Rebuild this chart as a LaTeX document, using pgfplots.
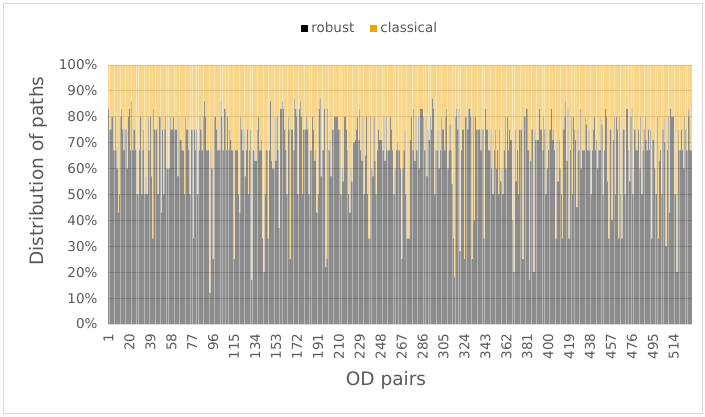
\documentclass[border=0pt]{standalone}
\usepackage{pgfplots}
\usepackage{pgfplotstable}
\usepackage{fontspec}
\setmainfont{DejaVu Sans}
\pgfplotsset{compat=1.18}
\definecolor{txtgray}{HTML}{595959}
\definecolor{gridgray}{HTML}{D9D9D9}
\definecolor{classorange}{RGB}{237,165,0}
\pgfplotstableread[row sep=\\]{r\\
83\\ 75\\ 75\\ 80\\ 80\\ 67\\ 80\\ 67\\ 60\\ 43\\ 50\\ 80\\ 83\\ 75\\ 67\\ 75\\ 75\\ 60\\ 80\\ 83\\ 67\\ 86\\ 67\\ 75\\ 75\\ 67\\ 50\\ 50\\ 67\\ 80\\ 50\\ 67\\ 75\\ 50\\ 57\\ 50\\ 80\\
67\\ 80\\ 57\\ 33\\ 83\\ 75\\ 75\\ 75\\ 50\\ 80\\ 80\\ 43\\ 75\\ 50\\ 75\\ 80\\ 60\\ 60\\ 60\\ 80\\ 75\\ 75\\ 80\\ 75\\ 75\\ 75\\ 57\\ 80\\ 71\\ 71\\ 67\\ 67\\ 50\\ 80\\ 75\\ 75\\ 67\\ 50\\ 75\\ 75\\ 33\\ 75\\ 67\\ 75\\ 50\\ 67\\
80\\ 75\\ 67\\ 80\\ 86\\ 80\\ 67\\ 67\\ 67\\ 12\\ 67\\ 60\\ 25\\ 80\\ 80\\ 75\\ 67\\ 67\\ 67\\ 86\\ 80\\ 67\\ 83\\ 83\\ 67\\ 80\\ 67\\ 75\\ 71\\ 67\\ 67\\ 25\\ 67\\ 67\\ 67\\ 50\\ 43\\ 80\\ 75\\ 67\\ 75\\ 57\\ 67\\ 75\\ 50\\
67\\ 75\\ 17\\ 67\\ 67\\ 63\\ 63\\ 75\\ 80\\ 67\\ 67\\ 71\\ 33\\ 20\\ 50\\ 67\\ 67\\ 33\\ 67\\ 86\\ 63\\ 60\\ 60\\ 80\\ 63\\ 80\\ 67\\ 37\\ 83\\ 83\\ 86\\ 83\\ 75\\ 67\\ 50\\ 80\\ 75\\ 25\\ 75\\ 75\\ 67\\ 87\\ 83\\ 80\\ 50\\
83\\ 86\\ 80\\ 50\\ 75\\ 75\\ 75\\ 80\\ 75\\ 50\\ 67\\ 67\\ 80\\ 75\\ 63\\ 67\\ 43\\ 50\\ 83\\ 87\\ 57\\ 67\\ 67\\ 83\\ 22\\ 25\\ 83\\ 67\\ 71\\ 57\\ 75\\ 75\\ 80\\ 80\\ 80\\ 80\\ 75\\ 75\\ 50\\ 60\\ 55\\ 80\\ 80\\ 75\\ 67\\ 50\\
43\\ 60\\ 55\\ 70\\ 70\\ 71\\ 75\\ 80\\ 71\\ 83\\ 67\\ 63\\ 80\\ 50\\ 65\\ 80\\ 50\\ 33\\ 33\\ 80\\ 60\\ 57\\ 80\\ 63\\ 50\\ 67\\ 75\\ 71\\ 71\\ 71\\ 67\\ 80\\ 63\\ 80\\ 67\\ 67\\ 67\\ 80\\ 75\\ 67\\ 50\\ 60\\ 67\\ 70\\ 67\\
67\\ 60\\ 25\\ 60\\ 67\\ 75\\ 50\\ 33\\ 33\\ 33\\ 71\\ 80\\ 67\\ 83\\ 63\\ 80\\ 67\\ 80\\ 60\\ 83\\ 83\\ 83\\ 80\\ 67\\ 80\\ 57\\ 75\\ 71\\ 80\\ 75\\ 87\\ 83\\ 50\\ 67\\ 67\\ 75\\ 60\\ 67\\ 80\\ 75\\ 75\\ 67\\ 80\\ 83\\ 60\\ 67\\
77\\ 67\\ 54\\ 33\\ 18\\ 80\\ 83\\ 75\\ 83\\ 28\\ 67\\ 75\\ 75\\ 25\\ 80\\ 80\\ 75\\ 83\\ 83\\ 80\\ 25\\ 80\\ 40\\ 80\\ 75\\ 75\\ 75\\ 75\\ 67\\ 75\\ 75\\ 33\\ 83\\ 75\\ 75\\ 67\\ 67\\ 75\\ 60\\ 50\\ 67\\ 75\\ 60\\ 67\\ 50\\
75\\ 55\\ 60\\ 50\\ 67\\ 80\\ 60\\ 80\\ 67\\ 75\\ 71\\ 71\\ 40\\ 20\\ 75\\ 55\\ 67\\ 50\\ 75\\ 75\\ 75\\ 25\\ 80\\ 80\\ 83\\ 83\\ 67\\ 17\\ 63\\ 75\\ 75\\ 20\\ 75\\ 71\\ 71\\ 71\\ 83\\ 75\\ 75\\ 67\\ 80\\ 75\\ 50\\ 60\\ 67\\ 75\\
75\\ 83\\ 71\\ 75\\ 67\\ 33\\ 71\\ 55\\ 71\\ 60\\ 50\\ 33\\ 75\\ 80\\ 86\\ 63\\ 83\\ 33\\ 67\\ 80\\ 50\\ 80\\ 75\\ 71\\ 45\\ 75\\ 67\\ 83\\ 60\\ 67\\ 67\\ 67\\ 80\\ 77\\ 67\\ 75\\ 67\\ 50\\ 67\\ 75\\ 80\\ 67\\ 71\\ 60\\ 67\\
67\\ 80\\ 77\\ 50\\ 67\\ 83\\ 80\\ 55\\ 33\\ 75\\ 75\\ 40\\ 71\\ 80\\ 50\\ 80\\ 75\\ 33\\ 80\\ 50\\ 33\\ 75\\ 75\\ 50\\ 83\\ 83\\ 67\\ 55\\ 80\\ 83\\ 50\\ 75\\ 75\\ 67\\ 67\\ 75\\ 60\\ 80\\ 50\\ 67\\ 75\\ 80\\ 71\\ 67\\ 75\\ 67\\
75\\ 33\\ 71\\ 71\\ 60\\ 50\\ 80\\ 33\\ 63\\ 67\\ 50\\ 75\\ 80\\ 70\\ 30\\ 67\\ 80\\ 43\\ 83\\ 80\\ 80\\ 80\\ 50\\ 50\\ 20\\ 75\\ 67\\ 67\\ 75\\ 67\\ 60\\ 80\\ 75\\ 67\\ 83\\ 80\\ 67\\ 67\\
}\ODdata
\begin{document}
\begin{tikzpicture}
\useasboundingbox (0,0) rectangle (705bp,417bp);
\draw[gridgray, line width=0.8bp] (3bp,4bp) rectangle (702bp,414bp);
\begin{axis}[
  at={(108bp,93bp)}, anchor=south west,
  width=584bp, height=259bp, scale only axis,
  ybar stacked, bar width=0.72,
  xmin=0.5, xmax=530.5, ymin=0, ymax=100,
  xtick={1,20,...,514},
  ytick={0,10,...,100},
  yticklabel={\pgfmathprintnumber{\tick}\%},
  /pgf/number format/assume math mode=true,
  major tick length=0pt,
  axis line style={draw=none},
  ymajorgrids, grid style={draw=gridgray, line width=0.8bp},
  tick label style={font=\fontsize{13.5bp}{16bp}\selectfont, text=txtgray},
  x tick label style={rotate=90, anchor=east},
  xticklabel shift=6bp,
  yticklabel shift=7bp,
  xlabel={OD pairs}, ylabel={Distribution of paths},
  label style={font=\fontsize{18.5bp}{22bp}\selectfont, text=txtgray},
  xlabel style={at={(axis description cs:0.476,-0.216)}, anchor=center},
  ylabel style={at={(axis description cs:-0.12,0.59)}, anchor=center},
  legend columns=2,
  legend style={at={(0.449,1.143)}, anchor=center, draw=none, fill=none,
    font=\fontsize{13.5bp}{16bp}\selectfont, text=txtgray,
    /tikz/every even column/.append style={column sep=14bp},
    /tikz/every odd column/.append style={column sep=1bp}},
  legend image code/.code={\fill[#1,fill opacity=1] (0bp,-4bp) rectangle (7bp,3bp);},
]
\addplot[fill=black, fill opacity=0.45, draw=none] table[x expr=\coordindex+1, y index=0] {\ODdata};
\addplot[fill=classorange, fill opacity=0.45, draw=none] table[x expr=\coordindex+1, y index=0, y expr=100-\thisrow{r}] {\ODdata};
\legend{robust, classical}
\end{axis}
\end{tikzpicture}
\end{document}
